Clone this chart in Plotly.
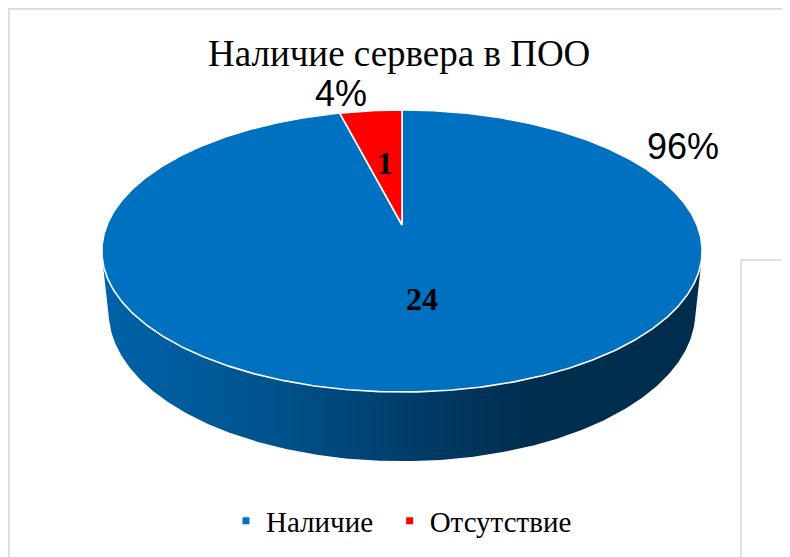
import math
import plotly.graph_objects as go

# ---------------- data ----------------
title_text = "Наличие сервера в ПОО"
categories = ["Наличие", "Отсутствие"]
values = [24, 1]
percent_labels = ["96%", "4%"]
colors = ["#0070C0", "#FF0000"]

# ---------------- geometry / layout constants ----------------
W, H = 790, 557
OFF = 8                        # page margin of the html body
CX, CY = 402.0, 225.0          # screen position of the pie centre (top face)
THETA = math.radians(27.5)     # elevation
DIST = 4.81                    # camera distance (pie radius = 1)
FOC = 295.0 * DIST
DEPTH = 0.236                  # pie thickness
PCT_POS = [(683, 146), (341, 93)]
SIDE_SHADE = [(0.0, 0.875), (0.282, 0.74), (0.382, 0.655), (0.548, 0.52), (0.714, 0.41), (1.0, 0.40)]


def proj(u, v, z):
    d = DIST + v * math.cos(THETA) - z * math.sin(THETA)
    up = v * math.sin(THETA) + z * math.cos(THETA)
    return CX + FOC * u / d, CY - FOC * up / d


def rim(phi_deg, z, r=1.0):
    p = math.radians(phi_deg)
    return proj(r * math.sin(p), r * math.cos(p), z)


def hex_rgb(h):
    h = h.lstrip("#")
    return tuple(int(h[i:i + 2], 16) for i in (0, 2, 4))


def shade(base, f):
    r, g, b = hex_rgb(base)
    return "rgb(%d,%d,%d)" % (round(r * f), round(g * f), round(b * f))


fig = go.Figure()

total = sum(values)
spans = []
start = 0.0
for v in values:
    span = 360.0 * v / total
    spans.append((start, start + span))
    start += span

# visible part of the cylinder wall
phi_lo = math.degrees(math.acos(-1.0 / (DIST * math.cos(THETA))))
phi_hi = 360.0 - phi_lo

for (a0, a1), col in zip(spans, colors):
    a, b = max(a0, phi_lo), min(a1, phi_hi)
    if a >= b:
        continue
    n = max(2, int((b - a) / 0.5))
    top = [rim(a + (b - a) * k / n, 0) for k in range(n + 1)]
    bot = [rim(b - (b - a) * k / n, -DEPTH) for k in range(n + 1)]
    pts = top + bot + [top[0]]
    fig.add_trace(go.Scatter(
        x=[p[0] for p in pts], y=[p[1] for p in pts],
        mode="lines", fill="toself",
        fillgradient=dict(type="horizontal",
                          colorscale=[[s, shade(col, f)] for s, f in SIDE_SHADE]),
        line=dict(width=0), hoverinfo="skip", showlegend=False))

# top face slices
for (a0, a1), col, name, val in zip(spans, colors, categories, values):
    n = max(2, int((a1 - a0) / 0.5))
    pts = [proj(0, 0, 0)] + [rim(a0 + (a1 - a0) * k / n, 0) for k in range(n + 1)] + [proj(0, 0, 0)]
    fig.add_trace(go.Scatter(
        x=[p[0] for p in pts], y=[p[1] for p in pts],
        mode="lines", fill="toself", fillcolor=col,
        line=dict(color="white", width=1.6), name=name,
        hovertemplate=name + ": %d<extra></extra>" % val, showlegend=False))

# legend entries (thin spaces widen the gap between the two entries)
for i, (name, col) in enumerate(zip(categories, colors)):
    label = name + ("\u2009\u2009" if i < len(categories) - 1 else "")
    fig.add_trace(go.Scatter(
        x=[None], y=[None], mode="markers", name=label,
        marker=dict(symbol="square", size=7, color=col)))

annotations = []
# value labels inside slices
for (a0, a1), val in zip(spans, values):
    x, y = rim((a0 + a1) / 2, 0, 0.5)
    annotations.append(dict(
        x=x, y=y, xref="x", yref="y", text=str(val), showarrow=False,
        font=dict(family="Liberation Serif", size=32, color="black", weight="bold"),
        xanchor="center", yanchor="middle"))
# percentage labels
for txt, (x, y) in zip(percent_labels, PCT_POS):
    annotations.append(dict(
        x=x, y=y, xref="x", yref="y", text=txt, showarrow=False,
        font=dict(family="Liberation Sans", size=36, color="black"),
        xanchor="center", yanchor="middle"))
# title
annotations.append(dict(
    x=399, y=53, xref="x", yref="y", text=title_text, showarrow=False,
    font=dict(family="Liberation Serif", size=37, color="black"),
    xanchor="center", yanchor="middle"))

shapes = [
    dict(type="rect", xref="x", yref="y", x0=8.9, y0=8.9, x1=840, y1=620,
         line=dict(color="#d9d9d9", width=1.6), fillcolor="rgba(0,0,0,0)"),
    dict(type="rect", xref="x", yref="y", x0=741, y0=260, x1=840, y1=620,
         line=dict(color="#d9d9d9", width=1.6), fillcolor="rgba(0,0,0,0)"),
]

fig.update_layout(
    width=W, height=H,
    margin=dict(l=0, r=0, t=0, b=0),
    paper_bgcolor="white", plot_bgcolor="white",
    xaxis=dict(range=[OFF, OFF + W], visible=False, fixedrange=True),
    yaxis=dict(range=[OFF + H, OFF], visible=False, fixedrange=True),
    annotations=annotations, shapes=shapes,
    showlegend=True,
    legend=dict(orientation="h", x=(226 - OFF) / W, xanchor="left",
                y=1 - (521 - OFF) / H, yanchor="middle",
                font=dict(family="Liberation Serif", size=29, color="black"),
                bgcolor="rgba(0,0,0,0)", itemwidth=30),
)

fig.write_html("out.html")
